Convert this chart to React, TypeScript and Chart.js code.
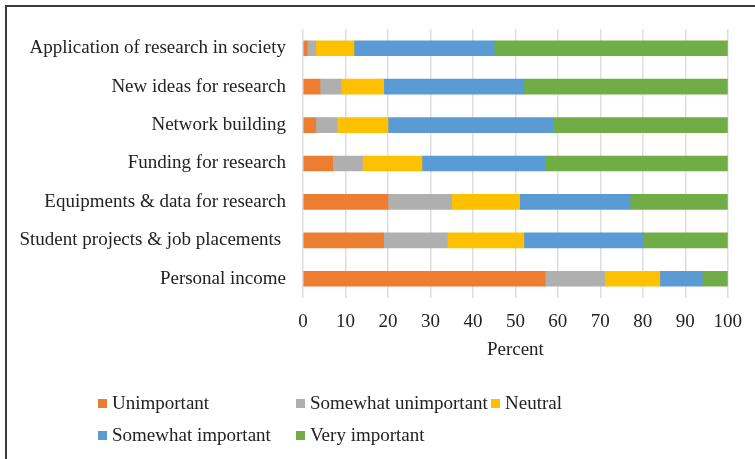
import React, { useEffect, useRef } from "react";
import { Chart, registerables } from "chart.js";

Chart.register(...registerables);

const categories = [
  "Application of research in society",
  "New ideas for research",
  "Network building",
  "Funding for research",
  "Equipments & data for research",
  "Student projects & job placements ",
  "Personal income",
];

const seriesNames = [
  "Unimportant",
  "Somewhat unimportant",
  "Neutral",
  "Somewhat important",
  "Very important",
];

const unimportant = [1, 4, 3, 7, 20, 19, 57];
const somewhatUnimportant = [2, 5, 5, 7, 15, 15, 14];
const neutral = [9, 10, 12, 14, 16, 18, 13];
const somewhatImportant = [33, 33, 39, 29, 26, 28, 10];
const veryImportant = [55, 48, 41, 43, 23, 20, 6];

const xTicks = [0, 10, 20, 30, 40, 50, 60, 70, 80, 90, 100];
const xTitle = "Percent";

const colors = ["#ED7D31", "#AFAFAF", "#FFC000", "#5B9BD5", "#70AD47"];

const FONT = '"Liberation Serif", "Times New Roman", Times, serif';
const TEXT = "#222222";

const legendItems = [
  { name: seriesNames[0], color: colors[0], x: 98, y: 403 },
  { name: seriesNames[1], color: colors[1], x: 296, y: 403 },
  { name: seriesNames[2], color: colors[2], x: 491, y: 403 },
  { name: seriesNames[3], color: colors[3], x: 98, y: 435 },
  { name: seriesNames[4], color: colors[4], x: 296, y: 435 },
];

export default function App() {
  const canvasRef = useRef<HTMLCanvasElement | null>(null);

  useEffect(() => {
    document.body.style.margin = "0";
    const canvas = canvasRef.current;
    if (!canvas) return;
    const values = [unimportant, somewhatUnimportant, neutral, somewhatImportant, veryImportant];
    const chart = new Chart(canvas, {
      type: "bar",
      data: {
        labels: categories,
        datasets: seriesNames.map((name, i) => ({
          label: name,
          data: values[i],
          backgroundColor: colors[i],
          borderWidth: 0,
          barThickness: 15,
        })),
      },
      options: {
        indexAxis: "y",
        responsive: false,
        animation: false,
        layout: { padding: { top: 29, right: 27, left: 0, bottom: 0 } },
        plugins: {
          legend: { display: false },
          tooltip: { enabled: false },
        },
        scales: {
          x: {
            stacked: true,
            min: 0,
            max: 100,
            afterBuildTicks: (scale: any) => {
              scale.ticks = xTicks.map((v) => ({ value: v }));
            },
            afterFit: (scale: any) => {
              scale.height = 161;
            },
            border: { display: false },
            grid: { color: "#DEDEDE", lineWidth: 1.5, drawTicks: false },
            ticks: {
              padding: 13,
              color: TEXT,
              font: { family: FONT, size: 19 },
            },
            title: {
              display: true,
              text: xTitle,
              color: TEXT,
              font: { family: FONT, size: 19 },
              padding: { top: 4, bottom: 98 },
            },
          },
          y: {
            stacked: true,
            afterFit: (scale: any) => {
              scale.width = 303;
            },
            border: { display: false },
            grid: { display: false, drawTicks: false },
            ticks: {
              padding: 17,
              color: TEXT,
              font: { family: FONT, size: 19 },
            },
          },
        },
      },
    });
    return () => chart.destroy();
  }, []);

  return (
    <div
      style={{
        position: "fixed",
        left: 0,
        top: 0,
        width: 755,
        height: 459,
        overflow: "hidden",
        background: "#ffffff",
      }}
    >
      <canvas
        ref={canvasRef}
        width={755}
        height={459}
        style={{ position: "absolute", left: 0, top: 0, width: 755, height: 459 }}
      />
      <div
        style={{
          position: "absolute",
          left: 5,
          top: 5,
          width: 800,
          height: 500,
          borderLeft: "2px solid #3a3a3a",
          borderTop: "2px solid #3a3a3a",
          pointerEvents: "none",
        }}
      />
      {legendItems.map((it) => (
        <div
          key={it.name}
          style={{
            position: "absolute",
            left: it.x,
            top: it.y - 12,
            height: 24,
            display: "flex",
            alignItems: "center",
            fontFamily: FONT,
            fontSize: 19,
            color: TEXT,
            whiteSpace: "nowrap",
          }}
        >
          <span
            style={{
              display: "inline-block",
              width: 9,
              height: 9,
              background: it.color,
              marginRight: 5,
            }}
          />
          <span>{it.name}</span>
        </div>
      ))}
    </div>
  );
}
